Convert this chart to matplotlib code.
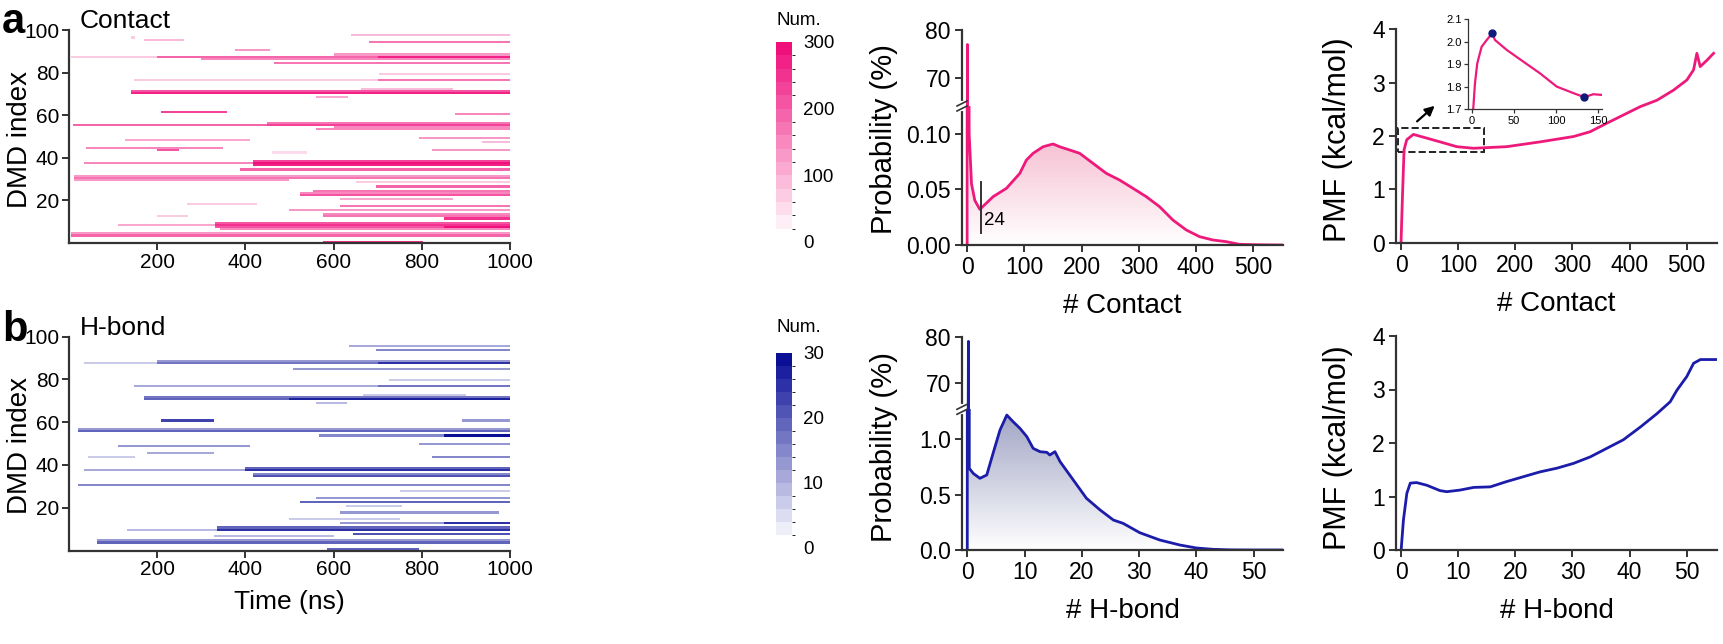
import numpy as np
import matplotlib
matplotlib.use('Agg')
import matplotlib.pyplot as plt
from matplotlib.colors import LinearSegmentedColormap, BoundaryNorm
from matplotlib.patches import Rectangle

plt.rcParams['font.family'] = ['Liberation Sans', 'DejaVu Sans']

# ---- heatmap bands: DMD index, start (ns), end (ns), number ----
contact_row = [98, 97, 96, 95, 91, 88, 88, 88, 89, 87, 85, 80, 77, 77, 73, 72, 71, 69, 62, 61,
               56, 56, 57, 55, 54, 50, 49, 48, 45, 44, 44, 43, 38, 38, 39, 37, 35, 32, 31, 30, 29,
               27, 25, 24, 23, 21, 19, 18, 16, 14, 13, 13, 12, 10, 9, 9, 8, 8, 7, 5, 4, 1]
contact_t0 = [640, 140, 170, 680, 377, 5, 200, 700, 600, 300, 464, 704, 148, 700, 663, 140, 140, 561, 208, 877,
              9, 450, 450, 600, 561, 794, 126, 937, 39, 200, 824, 460, 35, 419, 419, 419, 389, 13, 13, 13, 650,
              697, 554, 524, 524, 614, 268, 614, 501, 576, 200, 576, 850, 330, 110, 330, 330, 850, 343, 5, 5, 576]
contact_t1 = [1000, 150, 260, 1000, 456, 200, 700, 1000, 1000, 1000, 1000, 1000, 700, 1000, 870, 1000, 1000, 633, 358, 1000,
              450, 1000, 1000, 1000, 1000, 1000, 411, 1000, 351, 250, 1000, 540, 419, 1000, 1000, 1000, 1000, 1000, 1000, 500, 1000,
              1000, 1000, 1000, 1000, 870, 426, 1000, 1000, 1000, 270, 1000, 1000, 1000, 330, 1000, 1000, 1000, 1000, 1000, 1000, 802]
contact_num = [90, 60, 90, 170, 130, 70, 190, 260, 120, 150, 170, 60, 70, 170, 80, 200, 260, 100, 230, 150,
               190, 230, 160, 150, 150, 120, 100, 90, 150, 200, 130, 40, 140, 280, 220, 260, 190, 120, 170, 130, 70,
               180, 170, 140, 200, 110, 60, 170, 130, 140, 60, 170, 250, 200, 100, 240, 200, 300, 150, 120, 190, 240]

hbond_row = [96, 94, 89, 88, 88, 88, 85, 80, 77, 77, 73, 72, 71, 71, 69, 61, 61, 57, 56, 54, 54, 50, 49, 46,
             44, 44, 39, 38, 38, 36, 35, 31, 28, 25, 23, 21, 18, 15, 13, 13, 11, 10, 10, 8, 7, 5, 4, 1]
hbond_t0 = [637, 697, 200, 35, 200, 700, 509, 727, 148, 700, 667, 171, 171, 500, 561, 208, 892, 20, 20, 569, 850, 794, 110, 178,
            42, 824, 400, 35, 400, 419, 419, 20, 750, 561, 524, 629, 614, 501, 614, 850, 336, 133, 336, 644, 328, 65, 65, 584]
hbond_t1 = [1000, 1000, 1000, 200, 700, 1000, 1000, 1000, 700, 1000, 900, 1000, 500, 1000, 630, 328, 1000, 1000, 1000, 850, 1000, 1000, 411, 328,
            150, 1000, 1000, 400, 1000, 1000, 1000, 1000, 1000, 1000, 1000, 757, 975, 750, 850, 1000, 1000, 336, 1000, 1000, 600, 1000, 1000, 794]
hbond_num = [10, 15, 12, 6, 17, 24, 12, 6, 10, 17, 7, 16, 18, 26, 8, 22, 12, 12, 19, 14, 28, 12, 12, 11,
             6, 14, 18, 10, 25, 14, 20, 15, 6, 12, 18, 6, 12, 6, 13, 25, 18, 8, 25, 20, 9, 12, 18, 18]

# ---- probability distributions (%) ----
contact_x = [0, 0.5, 2.5, 3.5, 7.6, 13.4, 22.2, 45.4, 68.7, 92, 103.6, 115.2, 132.6, 150.1, 161.8,
             179.2, 196.7, 220, 243.3, 266.5, 289.8, 313, 336.3, 359.6, 382.9, 406.1, 429.4,
             452.7, 476, 500, 525, 550]
contact_prob = [0, 77, 0.3, 0.1, 0.055, 0.040, 0.032, 0.0434, 0.0509, 0.0643, 0.0763, 0.0823, 0.0882,
                0.0907, 0.0882, 0.0853, 0.0823, 0.0733, 0.0643, 0.0583, 0.0509, 0.0434, 0.0344,
                0.0224, 0.0135, 0.0075, 0.0045, 0.003, 0.0006, 0.0003, 0.0001, 0]

hbond_x = [0, 0.2, 0.35, 1.05, 2.2, 3.4, 4.5, 5.7, 6.9, 8.0, 9.2, 10.4, 11.5, 12.7, 13.9, 14.4,
           15.3, 16.2, 18.5, 20.8, 23.2, 25.5, 27.2, 30.1, 33.6, 37.1, 40, 42.9, 46, 50, 55]
hbond_prob = [0, 79, 0.736, 0.69, 0.646, 0.676, 0.871, 1.08, 1.216, 1.156, 1.096, 1.021, 0.916,
              0.886, 0.88, 0.856, 0.886, 0.796, 0.631, 0.466, 0.36, 0.27, 0.24, 0.156, 0.09,
              0.045, 0.018, 0.006, 0.001, 0, 0]

# ---- PMF (kcal/mol) ----
pmf_contact_x = [0, 2.3, 5.3, 10, 21.6, 45, 68.3, 97.5, 126.6, 185, 243.4, 301.8, 331, 360.2,
                 418.6, 447.8, 477, 500.3, 512, 517.8, 523.6, 535.4, 547]
pmf_contact = [0, 0.80, 1.74, 1.93, 2.03, 1.96, 1.89, 1.80, 1.77, 1.80, 1.89, 1.99, 2.08, 2.24,
               2.55, 2.67, 2.86, 3.05, 3.24, 3.55, 3.30, 3.42, 3.55]

inset_x = [1.9, 3.9, 6.6, 11.8, 17.8, 24.4, 27.6, 41.5, 61.1, 80.9, 100.7, 120.4, 133.4, 144.1, 154]
inset_pmf = [1.704, 1.815, 1.904, 1.978, 2.008, 2.038, 2.008, 1.964, 1.912, 1.860, 1.801, 1.772,
             1.754, 1.767, 1.764]
inset_marks = [5, 12]

pmf_hbond_x = [0, 0.4, 1.0, 1.6, 2.7, 4.5, 6.8, 8.0, 10.3, 12.7, 15.6, 18.5, 21.4, 24.3, 27.3,
               30.2, 33.1, 36.0, 38.9, 41.9, 44.8, 47.1, 48.3, 50.0, 51.2, 52.4, 55.3]
pmf_hbond = [0, 0.56, 1.06, 1.25, 1.26, 1.21, 1.11, 1.09, 1.12, 1.17, 1.18, 1.28, 1.37, 1.46,
             1.53, 1.62, 1.74, 1.90, 2.06, 2.30, 2.55, 2.77, 2.99, 3.24, 3.49, 3.56, 3.56]

PINK = '#ee1a7b'
BLUE = '#1c1caa'
SPINE = '#333333'
W, H = 1723, 644

fig = plt.figure(figsize=(W / 100, H / 100), dpi=100)


def rect(x0, y0, x1, y1):
    # pixel box -> figure fraction
    return [x0 / W, 1 - y1 / H, (x1 - x0) / W, (y1 - y0) / H]


def style(ax, size=16.5):
    for s in ['top', 'right']:
        ax.spines[s].set_visible(False)
    for s in ['left', 'bottom']:
        ax.spines[s].set_color(SPINE)
        ax.spines[s].set_linewidth(1.6)
    ax.tick_params(direction='out', length=5, width=1.4, color=SPINE, labelsize=size, pad=3)


def heatmap(box, rows, t0, t1, num, vmax, color, cbox, name_y, title, title_y):
    grid = np.zeros((100, 500))
    tc = np.arange(500) * 2 + 1
    for r, a, b, v in zip(rows, t0, t1, num):
        m = (tc >= a) & (tc < b)
        grid[r - 1, m] = np.maximum(grid[r - 1, m], v)
    bounds = np.linspace(0, vmax, 16)
    cmap = LinearSegmentedColormap.from_list('c', ['#ffffff', color], N=15)
    norm = BoundaryNorm(bounds, 15)
    ax = fig.add_axes(rect(*box))
    im = ax.imshow(grid, cmap=cmap, norm=norm, origin='lower', aspect='auto',
                   extent=[0, 1000, 0, 100], interpolation='nearest')
    ax.set_xlim(0, 1000)
    ax.set_ylim(0, 100)
    ax.set_xticks([200, 400, 600, 800, 1000])
    ax.set_yticks([20, 40, 60, 80, 100])
    style(ax, 15)
    ax.tick_params(pad=2)
    fig.text(80 / W, 1 - title_y / H, title, fontsize=19, va='baseline', ha='left')
    cax = fig.add_axes(rect(*cbox))
    cb = fig.colorbar(im, cax=cax, ticks=np.linspace(0, vmax, 4))
    cb.outline.set_visible(False)
    cax.tick_params(length=0, labelsize=13.5, pad=8)
    fig.text(776 / W, 1 - name_y / H, 'Num.', fontsize=13.5, va='baseline', ha='left')
    return ax


# ---- row a ----
ax = heatmap((69, 30, 510, 243), contact_row, contact_t0, contact_t1, contact_num, 300, '#f0107c',
             (776, 42, 792, 242), 25, 'Contact', 28)
fig.text(20 / W, 1 - 140 / H, 'DMD index', rotation=90, fontsize=20, ha='center', va='center')

# ---- row b ----
ax = heatmap((69, 336.7, 510, 550.5), hbond_row, hbond_t0, hbond_t1, hbond_num, 30, '#0a0f96',
             (776, 352.7, 792, 548), 331.7, 'H-bond', 335)
ax.set_xlabel('Time (ns)', fontsize=19, labelpad=8)
fig.text(20 / W, 1 - 446 / H, 'DMD index', rotation=90, fontsize=20, ha='center', va='center')

fig.text(2 / W, 1 - 33 / H, 'a', fontsize=30, fontweight='bold', va='baseline')
fig.text(2 / W, 1 - 341 / H, 'b', fontsize=30, fontweight='bold', va='baseline')


def broken_prob(top_box, bot_box, x, y, xlim, top_lim, bot_lim, yt_bot, fmt, xticks,
                color, fill_col, fill_from, xlabel, ylab_y):
    x = np.array(x)
    y = np.array(y)
    axt = fig.add_axes(rect(*top_box))
    axb = fig.add_axes(rect(*bot_box))
    for a in (axt, axb):
        style(a)
        a.plot(x, y, color=color, lw=2)
        a.set_xlim(*xlim)
    axt.set_ylim(*top_lim)
    axt.set_yticks([70, 80])
    axt.spines['bottom'].set_visible(False)
    axt.tick_params(axis='x', bottom=False, labelbottom=False)
    axb.set_ylim(*bot_lim)
    axb.set_yticks(yt_bot)
    axb.set_yticklabels([fmt % v for v in yt_bot])
    axb.set_xticks(xticks)
    # gradient fill under the curve
    poly = axb.fill_between(x[fill_from:], y[fill_from:], color='none')
    gcm = LinearSegmentedColormap.from_list('g', ['#ffffff', fill_col])
    ytop = y[fill_from:].max() if fill_from else bot_lim[1]
    im = axb.imshow(np.linspace(0, 1, 256).reshape(-1, 1), cmap=gcm, origin='lower',
                    aspect='auto', extent=[xlim[0], xlim[1], 0, ytop], zorder=1)
    im.set_clip_path(poly.get_paths()[0], transform=axb.transData)
    axb.set_xlim(*xlim)
    axb.set_ylim(*bot_lim)
    axb.spines['left'].set_bounds(0, bot_lim[1] * 0.985)
    axb.set_xlabel(xlabel, fontsize=20, labelpad=10)
    # break marks on the y axis
    xb = top_box[0]
    yb = top_box[3]
    fig.add_artist(plt.Line2D([xb / W, xb / W], [1 - (yb - 3) / H, 1 - (yb + 3) / H],
                              color='white', lw=3, transform=fig.transFigure))
    for dy in (-2.5, 2.5):
        fig.add_artist(plt.Line2D([(xb - 5) / W, (xb + 5) / W],
                                  [1 - (yb + dy + 2.5) / H, 1 - (yb + dy - 2.5) / H],
                                  color=SPINE, lw=1.2, transform=fig.transFigure))
    fig.text(884 / W, 1 - ylab_y / H, 'Probability (%)', rotation=90, fontsize=21,
             ha='center', va='center')
    return axt, axb


axt, axb = broken_prob((962, 30, 1283, 106), (962, 106, 1283, 245), contact_x, contact_prob,
                       (-9, 552), (64.3, 80), (0, 0.1248), [0, 0.05, 0.10], '%.2f',
                       [0, 100, 200, 300, 400, 500], PINK, '#f6bcd0', 3, '# Contact', 139)
axb.plot([24, 24], [0.0105, 0.057], color='#333333', lw=1.4)
axb.text(29, 0.0224, '24', fontsize=13.5, va='center', ha='left')

axt, axb = broken_prob((962, 336.7, 1283, 409.3), (962, 409.3, 1283, 550), hbond_x, hbond_prob,
                       (-0.92, 55.1), (64.45, 80), (0, 1.268), [0, 0.5, 1.0], '%.1f',
                       [0, 10, 20, 30, 40, 50], BLUE, '#9ea2c2', 0, '# H-bond', 446.7)
axt.fill_between(hbond_x[:3], hbond_prob[:3], color=BLUE)

# ---- PMF a ----
ax = fig.add_axes(rect(1396, 29.3, 1717, 242.7))
style(ax)
ax.plot(pmf_contact_x, pmf_contact, color=PINK, lw=2)
ax.set_xlim(-8.8, 553)
ax.set_ylim(0, 4)
ax.set_xticks([0, 100, 200, 300, 400, 500])
ax.set_yticks([0, 1, 2, 3, 4])
ax.set_xlabel('# Contact', fontsize=20, labelpad=10)
ax.add_patch(Rectangle((-5, 1.7), 151, 0.45, fill=False, ls='--', lw=1.4, ec='#222222'))
ax.annotate('', xy=(62.5, 2.6), xytext=(24.5, 2.24),
            arrowprops=dict(arrowstyle='-|>', color='black', lw=1.6, mutation_scale=14))
fig.text(1338 / W, 1 - 140 / H, 'PMF (kcal/mol)', rotation=90, fontsize=22, ha='center', va='center')

axi = fig.add_axes(rect(1467.7, 19.3, 1601.7, 109.3))
style(axi, 8)
for s in ['left', 'bottom']:
    axi.spines[s].set_linewidth(0.9)
axi.tick_params(length=3, width=0.9, pad=1.5)
axi.plot(inset_x, inset_pmf, color=PINK, lw=1.6)
axi.plot([inset_x[i] for i in inset_marks], [inset_pmf[i] for i in inset_marks], 'o',
         color='#101a78', ms=5, zorder=3)
axi.set_xlim(-4.7, 154)
axi.set_ylim(1.7, 2.1)
axi.set_xticks([0, 50, 100, 150])
axi.set_yticks([1.7, 1.8, 1.9, 2.0, 2.1])
axi.set_yticklabels(['%.1f' % v for v in [1.7, 1.8, 1.9, 2.0, 2.1]])

# ---- PMF b ----
ax = fig.add_axes(rect(1396, 336, 1717, 550))
style(ax)
ax.plot(pmf_hbond_x, pmf_hbond, color=BLUE, lw=2)
ax.set_xlim(-0.9, 55.3)
ax.set_ylim(0, 4)
ax.set_xticks([0, 10, 20, 30, 40, 50])
ax.set_yticks([0, 1, 2, 3, 4])
ax.set_xlabel('# H-bond', fontsize=20, labelpad=10)
fig.text(1338 / W, 1 - 447.5 / H, 'PMF (kcal/mol)', rotation=90, fontsize=22, ha='center', va='center')

fig.savefig('out.png', dpi=100)
